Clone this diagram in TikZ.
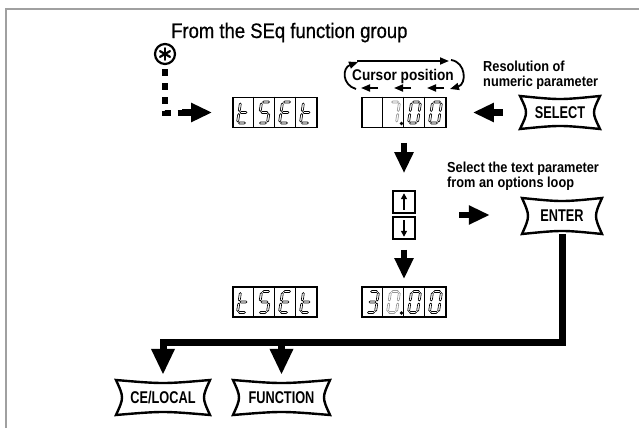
\documentclass[tikz,border=0pt]{standalone}
\usepackage{fontspec}
\setmainfont{Liberation Sans}
\newfontfamily\lblfont[FakeStretch=0.88]{Liberation Sans}
\newfontfamily\ttlfont[FakeStretch=0.88,FakeBold=0.6]{Liberation Sans}
\newfontfamily\btnfont[FakeStretch=0.75]{Liberation Sans}
\usetikzlibrary{arrows.meta,calc}
\definecolor{framegray}{RGB}{160,160,160}
\definecolor{seggray}{RGB}{150,150,150}
% seven-segment pieces (local coords, y down)
\newcommand\svna{\draw[seg] (-3.4,-10.5) -- (-2.4,-11.5) -- (2.4,-11.5) -- (3.4,-10.5) -- (2.4,-9.5) -- (-2.4,-9.5) -- cycle;}
\newcommand\svng{\draw[seg] (-3.4,0) -- (-2.4,-1) -- (2.4,-1) -- (3.4,0) -- (2.4,1) -- (-2.4,1) -- cycle;}
\newcommand\svnd{\draw[seg] (-3.4,10.5) -- (-2.4,9.5) -- (2.4,9.5) -- (3.4,10.5) -- (2.4,11.5) -- (-2.4,11.5) -- cycle;}
\newcommand\svnb{\draw[seg] (4.5,-9.4) -- (5.5,-8.4) -- (5.5,-2.1) -- (4.5,-1.1) -- (3.5,-2.1) -- (3.5,-8.4) -- cycle;}
\newcommand\svnc{\draw[seg] (4.5,1.1) -- (5.5,2.1) -- (5.5,8.4) -- (4.5,9.4) -- (3.5,8.4) -- (3.5,2.1) -- cycle;}
\newcommand\svnf{\draw[seg] (-4.5,-9.4) -- (-3.5,-8.4) -- (-3.5,-2.1) -- (-4.5,-1.1) -- (-5.5,-2.1) -- (-5.5,-8.4) -- cycle;}
\newcommand\svne{\draw[seg] (-4.5,1.1) -- (-3.5,2.1) -- (-3.5,8.4) -- (-4.5,9.4) -- (-5.5,8.4) -- (-5.5,2.1) -- cycle;}
\newcommand\segdigit[4]{%
  \begin{scope}[shift={(#1,#2)},xslant=0.15,seg/.append style={draw=#4}]
    \foreach \s in {#3}{\csname svn\s\endcsname}
  \end{scope}}
\newcommand\dispbox[3]{%
  \node[disp] (#1) at (#2,#3) {};
  \foreach \k in {1,2,3}
    \draw[celldiv] ([xshift=21*\k]#1.north west) -- ([xshift=21*\k]#1.south west);}
\newcommand\button[6]{%
  \pgfmathsetmacro\bmx{(#2+#4)/2}\pgfmathsetmacro\bmy{(#3+#5)/2}%
  \pgfmathsetmacro\bw{#4-#2}\pgfmathsetmacro\bh{#5-#3}%
  \node[btntext, minimum width=\bw pt, minimum height=\bh pt] (#1) at (\bmx,\bmy) {#6};
  \draw[btnline] (#2,#3) .. controls (\bmx,#3+4) .. (#4,#3)
     .. controls (#4-8,\bmy) .. (#4,#5)
     .. controls (\bmx,#5-4) .. (#2,#5)
     .. controls (#2+8,\bmy) .. cycle;}
\begin{document}
\begin{tikzpicture}[x=1pt,y=-1pt,line join=miter,
  disp/.style={draw, line width=1.8pt, minimum width=84pt, minimum height=30pt, inner sep=0pt},
  celldiv/.style={line width=1.1pt},
  seg/.style={line width=0.65pt},
  fat/.style={line width=6.5pt, -{Triangle[length=21pt,width=18pt]}},
  fatbig/.style={line width=7pt, -{Triangle[length=26pt,width=22pt]}},
  thinarr/.style={line width=1.8pt, -{Triangle[length=9pt,width=7pt]}},
  btnline/.style={line width=2.4pt, line join=miter, miter limit=20},
  btntext/.style={inner sep=0pt, font=\btnfont\bfseries\fontsize{17}{17}\selectfont},
  lbl/.style={inner sep=0pt, align=left, font=\lblfont\bfseries\fontsize{14.5}{14.5}\selectfont},
  arrbox/.style={draw, line width=1.6pt, minimum width=22pt, minimum height=22pt, inner sep=0pt},
  smallarr/.style={line width=1.8pt, -{Triangle[length=6pt,width=6pt]}},
  dashline/.style={line width=6pt, dash pattern=on 7pt off 7pt, dash phase=10pt}]
\useasboundingbox (0,0) rectangle (639,428);
% frame
\draw[framegray, line width=2pt] (6,428) -- (6,9) -- (639,9);
% title and labels
\node[anchor=base west, inner sep=0pt, font=\ttlfont\fontsize{21}{21}\selectfont] (title) at (171,38) {From the SEq function group};
\node[lbl, anchor=base, font=\lblfont\bfseries\fontsize{15.5}{15.5}\selectfont] (cursor) at (403,80) {Cursor position};
\node[lbl, anchor=north west] (resol) at (483,61) {Resolution of\\numeric parameter};
\node[lbl, anchor=north west] (seltext) at (447,162) {Select the text parameter\\from an options loop};
% star
\node[draw, circle, line width=2.2pt, minimum size=20pt, inner sep=0pt] (star) at (165,54) {};
\foreach \a in {90,150,210,270,330,30}
  \draw[line width=2.2pt, line cap=round] (star.center) -- ++(\a:5.8);
% displays
\dispbox{d1}{275}{112.5}
\segdigit{243.5}{112.5}{f,e,g,d}{black}
\segdigit{264.5}{112.5}{a,f,g,c,d}{black}
\segdigit{285.5}{112.5}{a,f,g,e,d}{black}
\segdigit{306.5}{112.5}{f,e,g,d}{black}
\dispbox{d2}{404}{112.5}
\segdigit{393.5}{112.5}{a,b,c}{seggray}
\segdigit{414.5}{112.5}{a,b,c,d,e,f}{black}
\segdigit{435.5}{112.5}{a,b,c,d,e,f}{black}
\fill (401.5,123.5) circle (1.8);
\dispbox{d3}{275}{302}
\segdigit{243.5}{302}{f,e,g,d}{black}
\segdigit{264.5}{302}{a,f,g,c,d}{black}
\segdigit{285.5}{302}{a,f,g,e,d}{black}
\segdigit{306.5}{302}{f,e,g,d}{black}
\dispbox{d4}{404}{302}
\segdigit{372.5}{302}{a,b,g,c,d}{black}
\segdigit{393.5}{302}{a,b,c,d,e,f}{seggray}
\segdigit{414.5}{302}{a,b,c,d,e,f}{black}
\segdigit{435.5}{302}{a,b,c,d,e,f}{black}
\fill (401.5,313) circle (1.8);
% up / down keys
\node[arrbox] (up) at (404,202) {};
\node[arrbox] (dn) at (404,228) {};
\coordinate (ud) at (404,215);
\draw[smallarr, shorten <=4pt, shorten >=3pt] (up.south) -- (up.north);
\draw[smallarr, shorten <=4pt, shorten >=3pt] (dn.north) -- (dn.south);
% buttons
\button{sel}{520}{96}{600}{129}{SELECT}
\button{ent}{522}{198}{602}{234}{ENTER}
\button{ce}{116}{380}{210}{415}{CE/LOCAL}
\button{fn}{233}{380}{330}{415}{FUNCTION}
% cursor arrows
\draw[thinarr] (357,61) -- (449,61);
\draw[thinarr] (378,88) -- (361,88);
\draw[thinarr] (411,88) -- (394,88);
\draw[thinarr] (444,88) -- (427,88);
\draw[thinarr] (356,89) .. controls (342,85) and (342,68) .. (358,62);
\draw[thinarr] (451,60) .. controls (466,62) and (467,84) .. (450,89);
% connectors
\coordinate (dend) at (182,112.5);
\draw[dashline] (star.south) |- (dend);
\draw[fat, shorten >=20pt] (dend) -- (d1.west);
\draw[fat, shorten <=17pt, shorten >=26pt] (sel.west) -- (d2.east);
\draw[fat, shorten <=14.5pt, shorten >=17pt] (d2.south) -- (up.north);
\draw[fat, shorten <=10pt, shorten >=7pt] (dn.south) -- (d4.north);
\draw[fat, shorten <=55pt, shorten >=32pt] (ud) -- (ud -| ent.west);
\coordinate (bus) at (163,342);
\draw[fatbig, shorten >=5pt] (ent.south) |- (bus) -- (ce.north);
\draw[fatbig, shorten >=5pt] (bus -| fn.north) -- (fn.north);
\end{tikzpicture}
\end{document}
